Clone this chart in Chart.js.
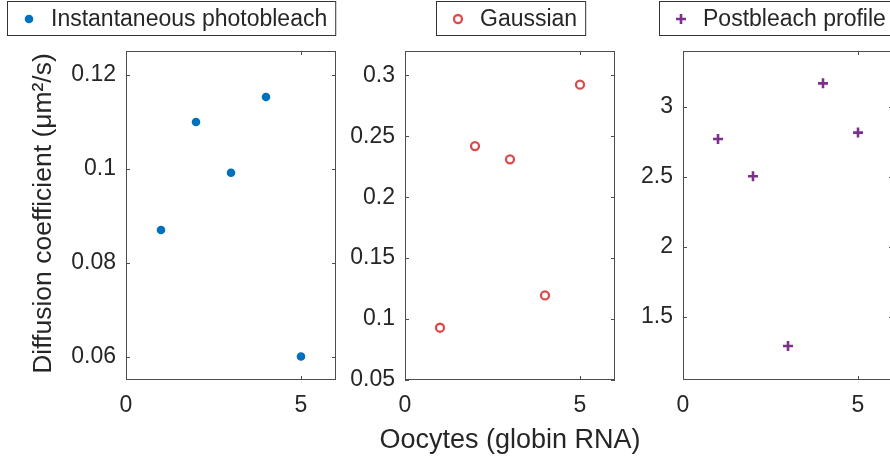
<!DOCTYPE html>
<html>
<head>
<meta charset="utf-8">
<script src="https://cdn.jsdelivr.net/npm/chart.js@4/dist/chart.umd.min.js"></script>
<style>
  html, body { margin: 0; padding: 0; background: #fff; overflow: hidden; }
  #wrap { position: relative; width: 890px; height: 459px; overflow: hidden; }
  canvas { position: absolute; top: 0; }
</style>
</head>
<body>
<div id="wrap">
  <canvas id="c1" width="345" height="459" style="left:0px"></canvas>
  <canvas id="c2" width="400" height="459" style="left:300px"></canvas>
  <canvas id="c3" width="280" height="459" style="left:625px"></canvas>
</div>
<script>
// oocyte index on x, diffusion coefficient per fitting method
const oocytes = [1, 2, 3, 4, 5];
const instantD = [0.0869, 0.1099, 0.0991, 0.1152, 0.0600];
const gaussianD = [0.0929, 0.2420, 0.2311, 0.1194, 0.2924];
const postbleachD = [2.771, 2.505, 1.293, 3.169, 2.817];

// tick labels
const xTicks = [0, 5];
const instantTicks = [0.06, 0.08, 0.1, 0.12];
const gaussianTicks = [0.05, 0.1, 0.15, 0.2, 0.25, 0.3];
const postbleachTicks = [1.5, 2, 2.5, 3];

const xLabel = 'Oocytes (globin RNA)';
const yLabel = 'Diffusion coefficient (\u03bcm\u00b2/s)';

const FONT = '"Liberation Sans", Arial, Helvetica, sans-serif';
const INK = '#262626';
Chart.defaults.font.family = FONT;
Chart.defaults.color = INK;

// box around the axes, inward tick marks, boxed legend and axis labels (matlab look)
const axesBox = {
  id: 'axesBox',
  afterDraw(chart, args, opts) {
    const { ctx, chartArea: a, scales } = chart;
    ctx.save();
    ctx.strokeStyle = '#4d4d4d';
    ctx.lineWidth = 1;
    ctx.strokeRect(a.left + 0.5, a.top + 0.5, a.width - 1, a.height - 1);
    const tl = 4;
    ctx.beginPath();
    scales.y.ticks.forEach(t => {
      const y = Math.round(scales.y.getPixelForValue(t.value)) + 0.5;
      ctx.moveTo(a.left, y); ctx.lineTo(a.left + tl, y);
      ctx.moveTo(a.right, y); ctx.lineTo(a.right - tl, y);
    });
    scales.x.ticks.forEach(t => {
      const x = Math.round(scales.x.getPixelForValue(t.value)) + 0.5;
      ctx.moveTo(x, a.bottom); ctx.lineTo(x, a.bottom - tl);
      ctx.moveTo(x, a.top); ctx.lineTo(x, a.top + tl);
    });
    ctx.stroke();

    // legend
    const ds = chart.data.datasets[0];
    ctx.font = '23px ' + FONT;
    const tw = ctx.measureText(ds.label).width;
    const bx = opts.legendLeft, by = 1, bh = 34;
    const bw = 44 + tw + 8;
    ctx.fillStyle = '#fff';
    ctx.fillRect(bx, by, bw, bh);
    ctx.strokeStyle = '#333';
    ctx.strokeRect(bx + 0.5, by + 0.5, bw, bh);
    const my = by + bh / 2;
    ctx.fillStyle = ds.pointBackgroundColor;
    ctx.strokeStyle = ds.pointBorderColor;
    ctx.lineWidth = ds.pointBorderWidth;
    Chart.helpers.drawPoint(ctx, {
      pointStyle: ds.pointStyle, radius: ds.pointRadius, rotation: 0,
      borderWidth: ds.pointBorderWidth
    }, bx + 22, my + 1);
    ctx.fillStyle = INK;
    ctx.textBaseline = 'middle';
    ctx.textAlign = 'left';
    ctx.fillText(ds.label, bx + 44, my + 2);

    // axis labels, drawn without chart.js' maxWidth squeeze
    ctx.textAlign = 'center';
    if (opts.xTitle) {
      ctx.font = '27px ' + FONT;
      ctx.fillText(xLabel, (a.left + a.right) / 2, 441);
    }
    if (opts.yTitle) {
      ctx.font = '26.5px ' + FONT;
      ctx.translate(44, (a.top + a.bottom) / 2 - 2);
      ctx.rotate(-Math.PI / 2);
      ctx.fillText(yLabel, 0, 0);
    }
    ctx.restore();
  }
};

function makePanel(id, label, values, yTicks, yMin, yMax, style, panel) {
  const ctx = document.getElementById(id).getContext('2d');
  return new Chart(ctx, {
    type: 'scatter',
    data: {
      datasets: [{
        label: label,
        data: oocytes.map((x, i) => ({ x: x, y: values[i] })),
        pointStyle: style.pointStyle,
        pointRadius: style.radius,
        pointBackgroundColor: style.fill,
        pointBorderColor: style.stroke,
        pointBorderWidth: style.width,
        showLine: false
      }]
    },
    options: {
      responsive: false,
      animation: false,
      devicePixelRatio: 1,
      layout: { padding: { left: panel.padLeft, right: panel.padRight, top: 51, bottom: 0 } },
      plugins: {
        legend: { display: false },
        tooltip: { enabled: false },
        axesBox: { legendLeft: panel.legendLeft, xTitle: panel.xTitle, yTitle: panel.yTitle }
      },
      scales: {
        x: {
          type: 'linear',
          min: 0, max: 6,
          grid: { display: false, drawTicks: false },
          border: { display: false },
          afterBuildTicks: s => { s.ticks = xTicks.map(v => ({ value: v })); },
          afterFit: s => { s.height = 79; },
          ticks: { font: { size: 23 }, padding: 12, color: INK, maxRotation: 0 }
        },
        y: {
          type: 'linear',
          min: yMin, max: yMax,
          grid: { display: false, drawTicks: false },
          border: { display: false },
          afterBuildTicks: s => { s.ticks = yTicks.map(v => ({ value: v })); },
          afterFit: s => { s.width = panel.yWidth; },
          ticks: { font: { size: 23 }, padding: 10, color: INK, callback: v => String(v) }
        }
      }
    },
    plugins: [axesBox]
  });
}

makePanel('c1', 'Instantaneous photobleach', instantD, instantTicks, 0.055, 0.125,
  { pointStyle: 'circle', radius: 4.3, fill: '#0072BD', stroke: '#0072BD', width: 0 },
  { padLeft: 0, padRight: 9, yWidth: 126, legendLeft: 7, xTitle: false, yTitle: true });

makePanel('c2', 'Gaussian', gaussianD, gaussianTicks, 0.05, 0.32,
  { pointStyle: 'circle', radius: 4, fill: '#ffffff', stroke: '#DC4B4B', width: 2.3 },
  { padLeft: 0, padRight: 85, yWidth: 105, legendLeft: 136, xTitle: true, yTitle: false });

makePanel('c3', 'Postbleach profile', postbleachD, postbleachTicks, 1.05, 3.4,
  { pointStyle: 'cross', radius: 5, fill: '#7E2F8E', stroke: '#7E2F8E', width: 2.6 },
  { padLeft: 0, padRight: 12, yWidth: 58, legendLeft: 34, xTitle: false, yTitle: false });
</script>
</body>
</html>
